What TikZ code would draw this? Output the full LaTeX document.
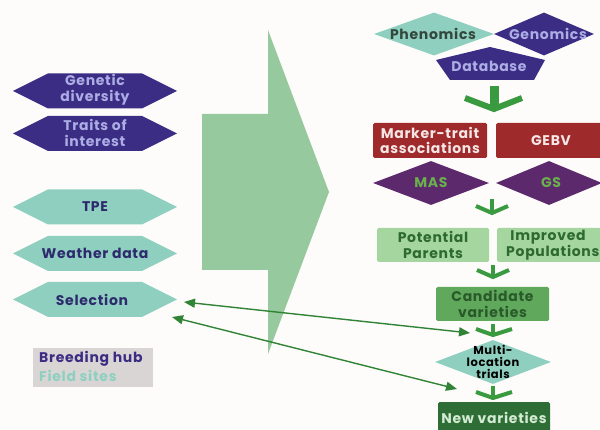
\documentclass[tikz,border=0pt]{standalone}
\usepackage{fontspec}
\setmainfont{Poppins}
\newfontfamily\gfont{Poppins}[LetterSpace=5]
\usetikzlibrary{shapes.geometric,arrows.meta}
\definecolor{bg}{HTML}{FDFCFA}
\definecolor{indigo}{HTML}{3B2D83}
\definecolor{lav}{HTML}{ADADE6}
\definecolor{teal}{HTML}{8ECFBF}
\definecolor{dind}{HTML}{2E2A6E}
\definecolor{phtxt}{HTML}{34473D}
\definecolor{dred}{HTML}{9E2A2B}
\definecolor{pinktxt}{HTML}{F5E6E6}
\definecolor{purp}{HTML}{5C2A6C}
\definecolor{mastxt}{HTML}{6AB04C}
\definecolor{lgreen}{HTML}{A6D6A0}
\definecolor{lgtxt}{HTML}{2D6A30}
\definecolor{cand}{HTML}{5FA85C}
\definecolor{candtxt}{HTML}{2A5A2A}
\definecolor{newv}{HTML}{2E6E36}
\definecolor{newtxt}{HTML}{D3EBD3}
\definecolor{bigarrow}{HTML}{97C99E}
\definecolor{garrow}{HTML}{3A9A40}
\definecolor{legbg}{HTML}{D9D5D5}
\begin{document}
\begin{tikzpicture}[x=1pt,y=-1pt,
  txt/.style={font=\gfont\bfseries\fontsize{14}{15.5}\selectfont, align=center, inner sep=0},
  smalltxt/.style={font=\gfont\bfseries\fontsize{11.5}{12}\selectfont, align=center, inner sep=0},
  dia/.style={diamond, inner sep=0, minimum width=#1},
  boxr/.style={rectangle, rounded corners=1.5pt, inner sep=0},
  varrow/.style={draw=garrow, line width=#1, line join=miter},
  conn/.style={draw=garrow!85!black, line width=1.4pt, {Triangle[length=11pt,width=9pt]}-{Triangle[length=11pt,width=9pt]}}]
\useasboundingbox[fill=bg] (0,0) rectangle (600,430);

% big arrow
\fill[bigarrow] (202,114) -- (268,114) -- (268,30) -- (329,192) -- (268,354) -- (268,270) -- (202,270) -- cycle;

% left hexagons
\foreach \cy/\col in {91/indigo, 133.5/indigo, 207/teal, 253.5/teal, 299.5/teal}
  \fill[\col] (13,\cy) -- (48,{\cy-17.5}) -- (142,{\cy-17.5}) -- (177,\cy) -- (142,{\cy+17.5}) -- (48,{\cy+17.5}) -- cycle;
\node[txt, text=lav] (gd) at (95,90) {Genetic\\diversity};
\node[txt, text=lav] (ti) at (95,133) {Traits of\\interest};
\node[txt, text=dind] (tpe) at (95,207) {TPE};
\node[txt, text=dind] (wd) at (95,253.5) {Weather data};
\node[txt, text=dind] (sel) at (92,299.5) {Selection};

% legend
\node[rectangle, fill=legbg, minimum width=120pt, minimum height=39pt, inner sep=0] (leg) at (93,367.5) {};
\node[txt, text=indigo, anchor=west] (bh) at (39,359) {Breeding hub};
\node[txt, text=teal, anchor=west] (fs) at (39,376) {Field sites};

% top diamonds and database
\node[dia=120pt, minimum height=43pt, fill=teal] (phen) at (434,34) {};
\node[dia=100pt, minimum height=43pt, fill=indigo] (geno) at (544,34) {};
\node[txt, text=phtxt] at (433,34) {Phenomics};
\node[txt, text=lav] at (548,34) {Genomics};
\fill[indigo] (490,47) -- (545,60) -- (534,80) -- (450,80) -- (436,60) -- cycle;
\node[txt, text=lav] (db) at (489,66) {Database};

% arrow 1
\draw[varrow=9pt] (494,86) -- (494,106);
\draw[varrow=6pt] (465,98) -- (494,109) -- (522,98);

% red boxes
\node[boxr, fill=dred, minimum width=114pt, minimum height=35pt] (mta) at (430,140.5) {};
\node[txt, text=pinktxt] at (mta) {Marker-trait\\associations};
\node[boxr, fill=dred, minimum width=106pt, minimum height=35pt, anchor=west] (gebv) at (496,140.5) {};
\node[txt, text=pinktxt] at (551,140.5) {GEBV};

% MAS / GS
\node[dia=116pt, minimum height=44pt, fill=purp] (mas) at (431,183) {};
\node[txt, text=mastxt] at (mas) {MAS};
\node[dia=106pt, minimum height=44pt, fill=purp] (gs) at (549,183) {};
\node[txt, text=mastxt] at (551,183) {GS};

% arrow 2
\draw[varrow=4.5pt] (492,199) -- (492,212);
\draw[varrow=4pt] (476,206) -- (492,213) -- (508,206);

% light green boxes
\node[boxr, fill=lgreen, minimum width=112pt, minimum height=34pt] (pp) at (433,245) {};
\node[txt, text=lgtxt] at (pp) {Potential\\Parents};
\node[boxr, fill=lgreen, minimum width=106pt, minimum height=34pt, anchor=west] (ip) at (497,245) {};
\node[txt, text=lgtxt] at (548,237.5) {Improved};
\node[txt, text=lgtxt, anchor=west] at (506,253) {Populations};

% arrow 3
\draw[varrow=4.5pt] (493,265) -- (493,276);
\draw[varrow=4pt] (477,270) -- (493,277) -- (509,270);

% candidate
\node[boxr, fill=cand, minimum width=113pt, minimum height=34pt] (cv) at (492.5,304) {};
\node[txt, text=candtxt] at (cv) {Candidate\\varieties};

% arrow 4
\draw[varrow=4.5pt] (493,324) -- (493,334);
\draw[varrow=4pt] (476,329) -- (493,335) -- (512,329);

% multi-location
\node[dia=116pt, minimum height=44pt, fill=teal] (mlt) at (493,362) {};
\node[smalltxt, text=black] at (mlt) {Multi-\\location\\trials};

% arrow 5
\draw[varrow=4.5pt] (493,386) -- (493,397);
\draw[varrow=4pt] (476,392) -- (493,398) -- (512,392);

% new varieties
\node[boxr, fill=newv, minimum width=112pt, minimum height=34pt, anchor=north] (nv) at (494,402) {};
\node[txt, text=newtxt] at (494,418) {New varieties};

% connectors
\coordinate (c1a) at (184,302);
\coordinate (c1b) at (470,333);
\coordinate (c2a) at (172,317);
\coordinate (c2b) at (457,389);
\draw[conn] (c1a) -- (c1b);
\draw[conn] (c2a) -- (c2b);
\end{tikzpicture}
\end{document}
